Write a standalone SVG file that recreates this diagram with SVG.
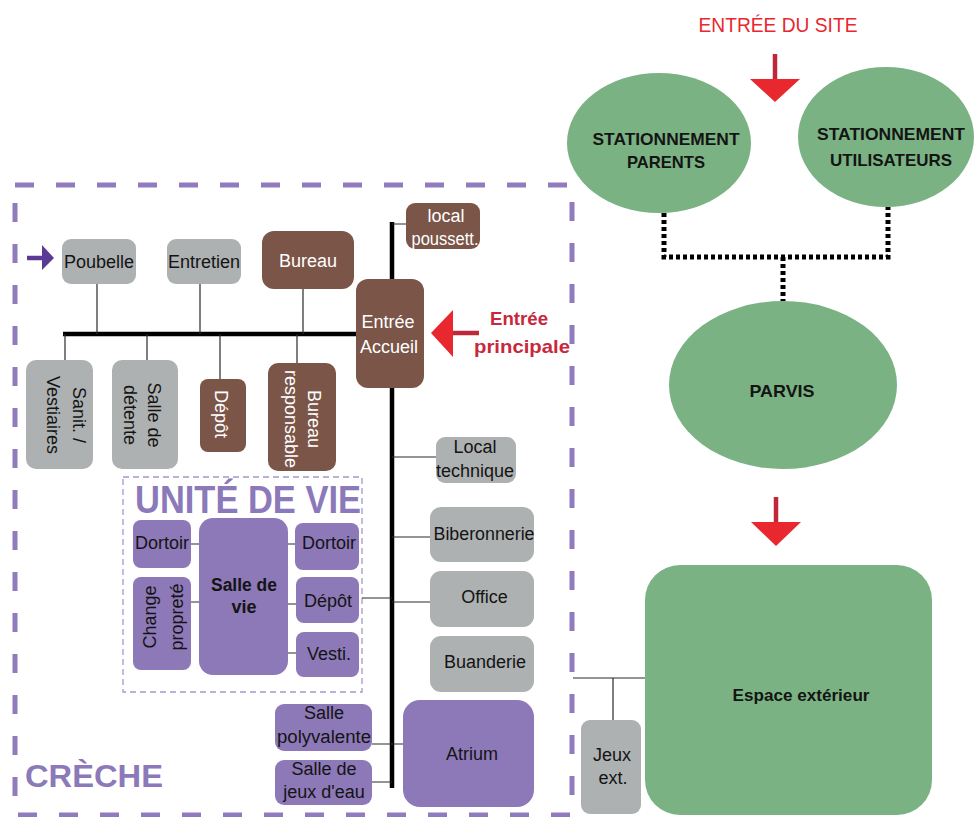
<svg xmlns="http://www.w3.org/2000/svg" width="974" height="817" viewBox="0 0 974 817">
<style>
text{font-family:"Liberation Sans",Arial,sans-serif;font-size:18px;fill:#141414}
.c{text-anchor:middle}
.w{fill:#ffffff}
.gray{fill:#aeb1b1}
.brown{fill:#7b5548}
.purple{fill:#8d78b8}
.green{fill:#7ab283}
.thin{stroke:#2a2a2a;stroke-width:1.2;fill:none}
.bus{stroke:#000;stroke-width:4.5;fill:none}
.dot{stroke:#000;stroke-width:5;stroke-dasharray:4 3;fill:none}
.red{fill:#c8283c;font-weight:bold;font-size:19px}
.g{font-weight:bold;font-size:17px}
</style>

<!-- boundaries -->
<rect x="15" y="185" width="557" height="630" fill="none" stroke="#8f7bbd" stroke-width="5" stroke-dasharray="19 22"/>
<rect x="123" y="477" width="239" height="215" fill="none" stroke="#a797cc" stroke-width="1.3" stroke-dasharray="6 4"/>
<text x="135" y="513" style="font-size:38px;font-weight:bold;fill:#8c79b9" textLength="226" lengthAdjust="spacingAndGlyphs">UNITÉ DE VIE</text>
<text x="25" y="787" style="font-size:31px;font-weight:bold;fill:#8c79b9" textLength="138" lengthAdjust="spacingAndGlyphs">CRÈCHE</text>

<g id="connectors">
  <path class="bus" d="M63 334 H357"/>
  <path class="bus" d="M392 222 V788"/>
  <path class="thin" d="M97 284 V334 M200 284 V334 M303 289 V334"/>
  <path class="thin" d="M65 334 V360 M147 334 V360 M220 334 V379 M297 334 V363"/>
  <path class="thin" d="M392 224 H406 M392 457 H436 M392 537 H430 M392 602 H430 M362 598 H392"/>
  <path class="thin" d="M372 744 H403 M372 782 H392"/>
  <path class="thin" d="M191 544 H199 M191 602 H199 M288 544 H295 M288 604 H296 M288 653 H296"/>
  <path class="thin" d="M573 678 H645 M613 678 V720"/>
  <path class="dot" d="M664 213 V257 H888 V207"/>
  <path class="dot" d="M783 257 V301"/>
  <!-- arrows -->
  <path d="M27 258 H44" stroke="#5b3a96" stroke-width="4.5"/>
  <polygon points="42,245 54,258 42,270" fill="#5b3a96"/>
  <path d="M451 333 H479" stroke="#c0283a" stroke-width="4.5"/>
  <polygon points="431,333 453,310 453,357" fill="#e8272f"/>
  <path d="M775 54 V81" stroke="#c0283a" stroke-width="4.5"/>
  <polygon points="750,79 800,79 775,102" fill="#e8272f"/>
  <path d="M776 497 V524" stroke="#c0283a" stroke-width="4.5"/>
  <polygon points="751,522 801,522 776,546" fill="#e8272f"/>
</g>

<text x="778" y="32" class="c" style="fill:#e8272f;font-size:20px" textLength="159" lengthAdjust="spacingAndGlyphs">ENTRÉE DU SITE</text>
<text x="519" y="325" class="c red" textLength="58" lengthAdjust="spacingAndGlyphs">Entrée</text>
<text x="522" y="353" class="c red" textLength="96" lengthAdjust="spacingAndGlyphs">principale</text>

<g id="poubelle"><rect x="62" y="239" width="74" height="45" rx="9" class="gray"/><text x="99" y="268" class="c">Poubelle</text></g>
<g id="entretien"><rect x="167" y="239" width="74" height="45" rx="9" class="gray"/><text x="204" y="268" class="c">Entretien</text></g>
<g id="bureau"><rect x="262" y="231" width="92" height="58" rx="12" class="brown"/><text x="308" y="267" class="c w">Bureau</text></g>
<g id="sanit"><rect x="26" y="360" width="67" height="109" rx="10" class="gray"/>
  <text transform="translate(59.5,415) rotate(90)" class="c"><tspan x="0" y="-13.5">Sanit. /</tspan><tspan x="0" y="12.5">Vestiaires</tspan></text></g>
<g id="detente"><rect x="112" y="360" width="66" height="109" rx="10" class="gray"/>
  <text transform="translate(145,415) rotate(90)" class="c"><tspan x="0" y="-3">Salle de</tspan><tspan x="0" y="21">détente</tspan></text></g>
<g id="depot1"><rect x="200" y="379" width="46" height="73" rx="8" class="brown"/>
  <text transform="translate(223,414) rotate(90)" class="c w" y="8">Dépôt</text></g>
<g id="bureau-resp"><rect x="268" y="363" width="68" height="108" rx="10" class="brown"/>
  <text transform="translate(302,419) rotate(90)" class="c w"><tspan x="0" y="-6">Bureau</tspan><tspan x="0" y="17">responsable</tspan></text></g>
<g id="accueil"><rect x="356" y="279" width="68" height="109" rx="12" class="brown"/>
  <text x="388" y="328" class="c w">Entrée</text><text x="389" y="353" class="c w">Accueil</text></g>
<g id="poussett"><rect x="406" y="203" width="74" height="46" rx="9" class="brown"/>
  <text x="446" y="222" class="c w">local</text><text x="445" y="245" class="c w" textLength="67" lengthAdjust="spacingAndGlyphs">poussett.</text></g>
<g id="local-tech"><rect x="436" y="437" width="80" height="46" rx="9" class="gray"/>
  <text x="475" y="453" class="c">Local</text><text x="475" y="477" class="c">technique</text></g>
<g id="biberonnerie"><rect x="430" y="507" width="104" height="55" rx="11" class="gray"/><text x="484" y="540" class="c" textLength="101" lengthAdjust="spacingAndGlyphs">Biberonnerie</text></g>
<g id="office"><rect x="430" y="571" width="104" height="56" rx="11" class="gray"/><text x="484.5" y="603" class="c">Office</text></g>
<g id="buanderie"><rect x="430" y="636" width="104" height="56" rx="11" class="gray"/><text x="485" y="668" class="c">Buanderie</text></g>

<g id="dortoir1"><rect x="133" y="520" width="58" height="48" rx="8" class="purple"/><text x="162" y="549" class="c">Dortoir</text></g>
<g id="change"><rect x="133" y="577" width="58" height="93" rx="8" class="purple"/>
  <text transform="translate(162,617) rotate(-90)" class="c"><tspan x="0" y="-6">Change</tspan><tspan x="0" y="21">propreté</tspan></text></g>
<g id="salle-vie"><rect x="199" y="518" width="89" height="157" rx="14" class="purple"/>
  <text x="244" y="591" class="c" style="font-weight:bold" textLength="66" lengthAdjust="spacingAndGlyphs">Salle de</text><text x="244" y="613" class="c" style="font-weight:bold">vie</text></g>
<g id="dortoir2"><rect x="295" y="523" width="64" height="47" rx="8" class="purple"/><text x="329" y="549" class="c">Dortoir</text></g>
<g id="depot2"><rect x="296" y="577" width="63" height="46" rx="8" class="purple"/><text x="328" y="607" class="c">Dépôt</text></g>
<g id="vesti"><rect x="296" y="632" width="63" height="45" rx="8" class="purple"/><text x="329" y="660" class="c">Vesti.</text></g>

<g id="polyvalente"><rect x="275" y="704" width="97" height="47" rx="9" class="purple"/>
  <text x="324" y="719" class="c">Salle</text><text x="324" y="743" class="c" textLength="94" lengthAdjust="spacingAndGlyphs">polyvalente</text></g>
<g id="jeux-eau"><rect x="275" y="760" width="97" height="45" rx="9" class="purple"/>
  <text x="324" y="775" class="c">Salle de</text><text x="324" y="798" class="c">jeux d'eau</text></g>
<g id="atrium"><rect x="403" y="700" width="131" height="107" rx="17" class="purple"/><text x="472" y="760" class="c">Atrium</text></g>

<g id="st-parents"><ellipse cx="659" cy="143" rx="92" ry="70" class="green"/>
  <text x="666" y="145" class="c g" textLength="147" lengthAdjust="spacingAndGlyphs">STATIONNEMENT</text>
  <text x="666" y="168" class="c g" textLength="78" lengthAdjust="spacingAndGlyphs">PARENTS</text></g>
<g id="st-util"><ellipse cx="886" cy="137" rx="88" ry="70" class="green"/>
  <text x="891" y="140" class="c g" textLength="148" lengthAdjust="spacingAndGlyphs">STATIONNEMENT</text>
  <text x="891" y="166" class="c g" textLength="122" lengthAdjust="spacingAndGlyphs">UTILISATEURS</text></g>
<g id="parvis"><ellipse cx="783" cy="385" rx="114" ry="84" class="green"/>
  <text x="782" y="397" class="c g" textLength="65" lengthAdjust="spacingAndGlyphs">PARVIS</text></g>
<g id="espace"><rect x="645" y="565" width="287" height="250" rx="35" class="green"/>
  <text x="801" y="701" class="c g" textLength="137" lengthAdjust="spacingAndGlyphs">Espace extérieur</text></g>
<g id="jeux-ext"><rect x="581" y="720" width="60" height="94" rx="9" class="gray"/>
  <text x="612" y="761" class="c">Jeux</text><text x="613" y="784" class="c">ext.</text></g>
</svg>
